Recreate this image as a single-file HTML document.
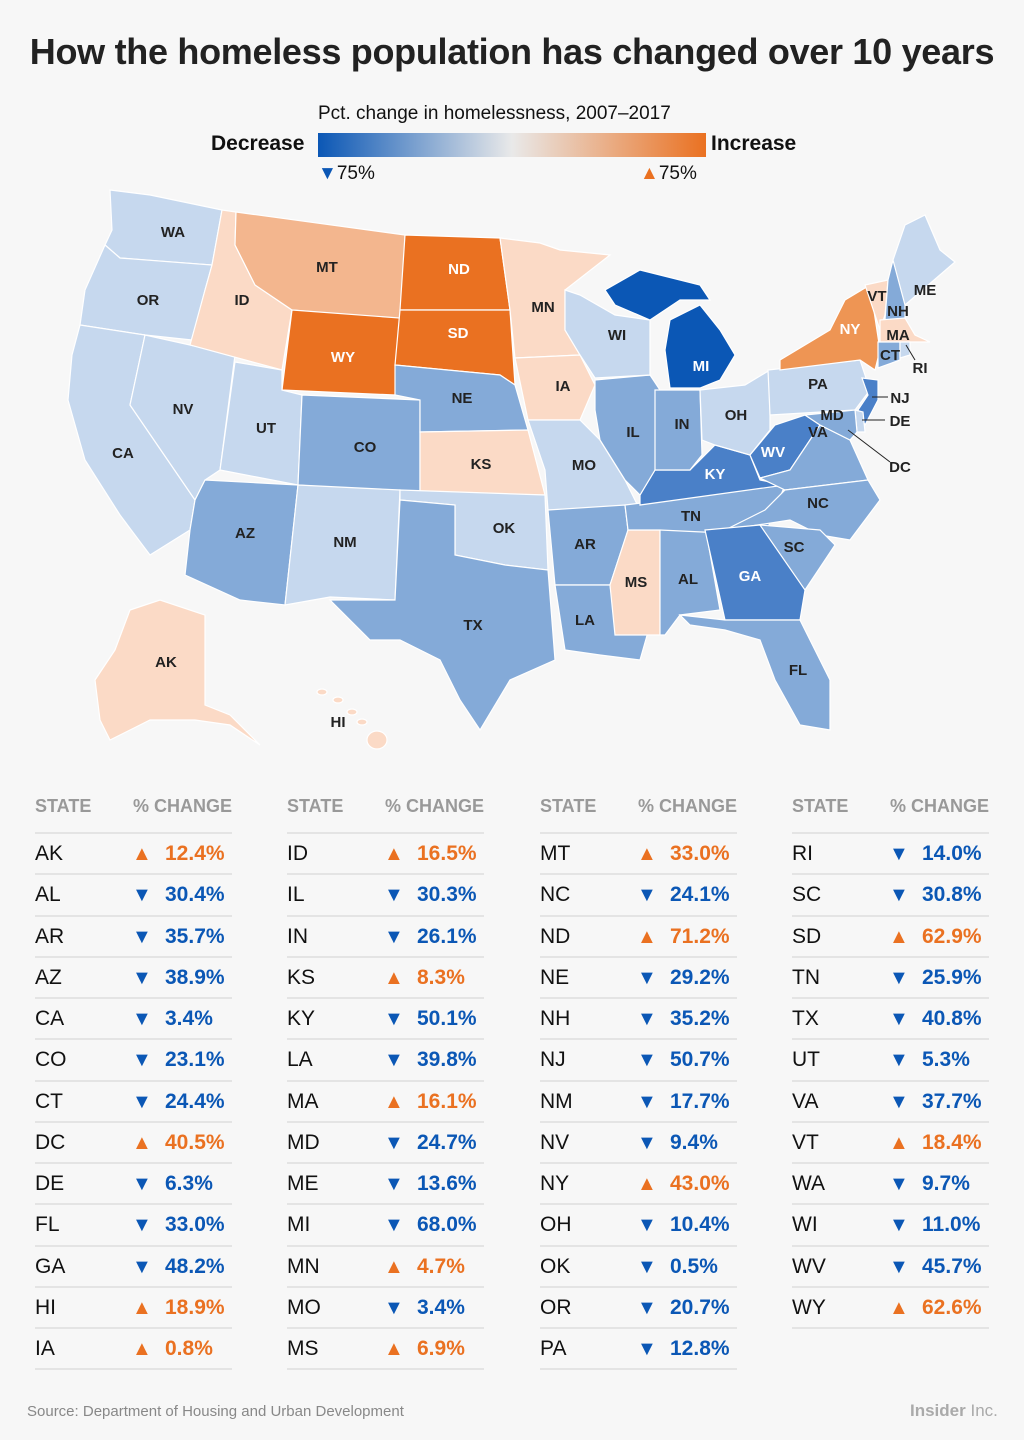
<!DOCTYPE html>
<html><head><meta charset="utf-8"><style>
body{margin:0;background:#f7f7f7;font-family:"Liberation Sans",sans-serif;}
.w{position:relative;width:1024px;height:1440px;overflow:hidden;}
h1{position:absolute;top:31px;left:0;width:1024px;text-align:center;margin:0;font-size:36px;font-weight:bold;color:#222;letter-spacing:-0.3px}
.t{position:absolute;font-size:20px;color:#111}
.hd{position:absolute;top:796px;font-size:18px;font-weight:bold;color:#999}
.col{position:absolute;top:832px;width:197px}
.r{height:39.25px;border-top:2px solid #e4e4e4;position:relative}
.r span{position:absolute;top:8px;font-size:21px}
.s{left:0;color:#111}
.a{left:97px;font-size:20px!important;top:9px!important}
.v{left:130px;font-weight:bold}
.u{color:#0b57b5}.o{color:#ea7121}
</style></head><body><div class="w">
<h1>How the homeless population has changed over 10 years</h1>
<div class="t" style="top:103px;left:318px;font-size:19px">Pct. change in homelessness, 2007–2017</div>
<div style="position:absolute;top:133px;left:318px;width:388px;height:24px;background:linear-gradient(90deg,#0b57b5,#e9e9e9 50%,#ea7121)"></div>
<div class="t" style="top:132px;left:211px;font-weight:bold;font-size:21px">Decrease</div>
<div class="t" style="top:132px;left:711px;font-weight:bold;font-size:21px">Increase</div>
<div class="t" style="top:163px;left:318px;font-size:19px"><span style="color:#0b57b5">▼</span>75%</div>
<div class="t" style="top:163px;left:640px;font-size:19px"><span style="color:#ea7121">▲</span>75%</div>
<svg style="position:absolute;left:0;top:0" width="1024" height="780" stroke="#fff" stroke-width="1.2">
<g>
<polygon fill="#c6d8ee" points="110,190 150,195 222,210 212,265 170,262 120,258 105,245 112,230"/>
<polygon fill="#c6d8ee" points="105,245 120,258 212,265 205,290 192,340 145,335 80,325 85,290"/>
<polygon fill="#c6d8ee" points="80,325 145,335 130,405 195,500 190,530 150,555 120,515 85,460 68,400 72,355"/>
<polygon fill="#c6d8ee" points="145,335 235,355 220,470 205,480 195,500 130,405"/>
<polygon fill="#fbdac6" points="222,210 236,212 235,245 255,285 292,310 282,370 190,345 205,290 212,265"/>
<polygon fill="#f3b68e" points="236,212 405,235 405,320 292,310 255,285 235,245"/>
<polygon fill="#ea7121" points="292,310 400,318 395,395 282,390"/>
<polygon fill="#c6d8ee" points="235,362 282,370 282,390 302,395 298,485 220,470"/>
<polygon fill="#84aad8" points="302,395 420,400 420,495 298,485"/>
<polygon fill="#84aad8" points="205,480 298,485 285,605 240,600 185,575 190,530 195,500"/>
<polygon fill="#c6d8ee" points="298,485 400,490 395,600 330,597 285,605"/>
<polygon fill="#ea7121" points="405,235 500,238 510,310 400,310"/>
<polygon fill="#ea7121" points="400,310 510,310 515,385 500,375 395,365"/>
<polygon fill="#84aad8" points="395,365 500,375 515,385 528,430 420,432 420,400 395,395"/>
<polygon fill="#fbdac6" points="420,432 528,430 545,495 420,495"/>
<polygon fill="#c6d8ee" points="400,490 545,495 548,570 505,565 455,555 455,505 400,500"/>
<polygon fill="#84aad8" points="400,500 455,505 455,555 505,565 548,570 555,660 510,680 480,730 460,700 440,660 400,640 370,640 330,600 395,600"/>
<polygon fill="#fbdac6" points="500,238 540,243 560,250 610,255 565,290 565,330 580,355 515,358 510,310"/>
<polygon fill="#fbdac6" points="515,358 580,355 595,385 580,420 528,420"/>
<polygon fill="#c6d8ee" points="528,420 580,420 600,440 625,480 640,510 625,510 548,510 545,470"/>
<polygon fill="#84aad8" points="548,510 625,505 628,530 610,585 555,585"/>
<polygon fill="#84aad8" points="555,585 610,585 615,620 650,625 640,660 600,655 565,650"/>
<polygon fill="#fbdac6" points="628,530 660,530 660,635 615,635 610,585"/>
<polygon fill="#84aad8" points="660,525 705,525 720,610 680,615 665,635 660,635"/>
<polygon fill="#84aad8" points="625,505 785,485 765,535 660,530 628,530"/>
<polygon fill="#4a80c8" points="640,495 655,470 690,470 715,445 750,455 760,480 785,485 640,505"/>
<polygon fill="#84aad8" points="595,380 650,375 660,390 655,470 640,495 625,480 600,440 595,410"/>
<polygon fill="#84aad8" points="655,390 700,390 702,455 690,470 655,470"/>
<polygon fill="#c6d8ee" points="700,390 745,385 770,370 770,430 750,455 715,445 702,440"/>
<polygon fill="#c6d8ee" points="565,290 580,295 615,315 650,320 650,375 595,378 580,355 565,330"/>
<polygon fill="#0b57b5" points="605,290 640,270 700,285 710,300 680,300 650,320 615,305"/>
<polygon fill="#0b57b5" points="670,320 700,305 720,330 735,355 720,380 700,388 670,388 665,350"/>
<polygon fill="#4a80c8" points="750,455 775,425 805,415 820,425 790,470 760,478"/>
<polygon fill="#84aad8" points="760,478 790,470 820,425 850,440 868,480 785,490"/>
<polygon fill="#84aad8" points="785,490 868,480 880,500 850,540 820,535 790,520 725,530 765,510"/>
<polygon fill="#84aad8" points="760,525 820,530 835,545 805,590 775,560"/>
<polygon fill="#4a80c8" points="705,530 760,525 805,590 800,620 725,620"/>
<polygon fill="#84aad8" points="680,615 725,620 800,620 830,680 830,730 800,725 775,680 760,640 725,630 690,625"/>
<polygon fill="#c6d8ee" points="768,370 860,360 870,390 855,410 770,415"/>
<polygon fill="#ee9554" points="780,360 830,330 845,300 870,285 880,350 875,370 860,360 780,370"/>
<polygon fill="#fbdac6" points="865,285 888,280 885,315 880,330"/>
<polygon fill="#84aad8" points="888,280 893,260 905,300 905,320 885,320"/>
<polygon fill="#c6d8ee" points="893,260 905,225 925,215 940,250 955,262 905,305"/>
<polygon fill="#fbdac6" points="880,320 905,318 915,335 930,342 880,342"/>
<polygon fill="#84aad8" points="878,342 900,342 900,360 878,368"/>
<polygon fill="#c6d8ee" points="900,342 910,342 910,355 900,358"/>
<polygon fill="#4a80c8" points="862,378 878,380 878,400 865,425 858,410 868,395"/>
<polygon fill="#c6d8ee" points="855,410 863,412 865,432 857,432"/>
<polygon fill="#84aad8" points="805,415 855,410 857,432 850,440 820,425"/>
<polygon fill="#fbdac6" points="130,610 160,600 205,615 205,705 230,715 260,745 230,725 195,720 150,720 110,740 100,720 95,680 115,650"/>
<g fill="#fbdac6"><ellipse cx="322" cy="692" rx="5" ry="3"/><ellipse cx="338" cy="700" rx="5" ry="3"/><ellipse cx="352" cy="712" rx="5" ry="3"/><ellipse cx="362" cy="722" rx="5" ry="3"/><ellipse cx="377" cy="740" rx="10" ry="9"/></g>
</g>
<g stroke="none" font-family="Liberation Sans" font-weight="bold" font-size="15" fill="#222" text-anchor="middle">
<text x="173" y="237">WA</text><text x="148" y="305">OR</text><text x="123" y="458">CA</text><text x="183" y="414">NV</text><text x="242" y="305">ID</text><text x="327" y="272">MT</text><text fill="#fff" x="343" y="362">WY</text><text x="266" y="433">UT</text><text x="365" y="452">CO</text><text x="245" y="538">AZ</text><text x="345" y="547">NM</text><text fill="#fff" x="459" y="274">ND</text><text fill="#fff" x="458" y="338">SD</text><text x="462" y="403">NE</text><text x="481" y="469">KS</text><text x="504" y="533">OK</text><text x="473" y="630">TX</text><text x="543" y="312">MN</text><text x="563" y="391">IA</text><text x="584" y="470">MO</text><text x="585" y="549">AR</text><text x="585" y="625">LA</text><text x="636" y="587">MS</text><text x="688" y="584">AL</text><text x="691" y="521">TN</text><text fill="#fff" x="715" y="479">KY</text><text x="633" y="437">IL</text><text x="682" y="429">IN</text><text x="736" y="420">OH</text><text x="617" y="340">WI</text><text fill="#fff" x="701" y="371">MI</text><text fill="#fff" x="773" y="457">WV</text><text x="818" y="437">VA</text><text x="818" y="508">NC</text><text x="794" y="552">SC</text><text fill="#fff" x="750" y="581">GA</text><text x="798" y="675">FL</text><text x="818" y="389">PA</text><text fill="#fff" x="850" y="334">NY</text><text x="877" y="301">VT</text><text x="898" y="316">NH</text><text x="925" y="295">ME</text><text x="898" y="340">MA</text><text x="890" y="360">CT</text><text x="920" y="373">RI</text><text x="900" y="403">NJ</text><text x="832" y="420">MD</text><text x="900" y="426">DE</text><text x="900" y="472">DC</text><text x="166" y="667">AK</text><text x="338" y="727">HI</text>
</g>
<g stroke="#222" stroke-width="1"><line x1="906" y1="345" x2="915" y2="360"/><line x1="872" y1="397" x2="888" y2="397"/><line x1="862" y1="420" x2="885" y2="420"/><line x1="848" y1="430" x2="890" y2="462"/></g>
</svg>
<div class="hd" style="left:35px">STATE</div><div class="hd" style="left:133px">% CHANGE</div>
<div class="hd" style="left:287px">STATE</div><div class="hd" style="left:385px">% CHANGE</div>
<div class="hd" style="left:540px">STATE</div><div class="hd" style="left:638px">% CHANGE</div>
<div class="hd" style="left:792px">STATE</div><div class="hd" style="left:890px">% CHANGE</div>
<div class="col" style="left:35px">
<div class="r"><span class="s">AK</span><span class="a o">▲</span><span class="v o">12.4%</span></div>
<div class="r"><span class="s">AL</span><span class="a u">▼</span><span class="v u">30.4%</span></div>
<div class="r"><span class="s">AR</span><span class="a u">▼</span><span class="v u">35.7%</span></div>
<div class="r"><span class="s">AZ</span><span class="a u">▼</span><span class="v u">38.9%</span></div>
<div class="r"><span class="s">CA</span><span class="a u">▼</span><span class="v u">3.4%</span></div>
<div class="r"><span class="s">CO</span><span class="a u">▼</span><span class="v u">23.1%</span></div>
<div class="r"><span class="s">CT</span><span class="a u">▼</span><span class="v u">24.4%</span></div>
<div class="r"><span class="s">DC</span><span class="a o">▲</span><span class="v o">40.5%</span></div>
<div class="r"><span class="s">DE</span><span class="a u">▼</span><span class="v u">6.3%</span></div>
<div class="r"><span class="s">FL</span><span class="a u">▼</span><span class="v u">33.0%</span></div>
<div class="r"><span class="s">GA</span><span class="a u">▼</span><span class="v u">48.2%</span></div>
<div class="r"><span class="s">HI</span><span class="a o">▲</span><span class="v o">18.9%</span></div>
<div class="r" style="border-bottom:2px solid #e4e4e4"><span class="s">IA</span><span class="a o">▲</span><span class="v o">0.8%</span></div>
</div>
<div class="col" style="left:287px">
<div class="r"><span class="s">ID</span><span class="a o">▲</span><span class="v o">16.5%</span></div>
<div class="r"><span class="s">IL</span><span class="a u">▼</span><span class="v u">30.3%</span></div>
<div class="r"><span class="s">IN</span><span class="a u">▼</span><span class="v u">26.1%</span></div>
<div class="r"><span class="s">KS</span><span class="a o">▲</span><span class="v o">8.3%</span></div>
<div class="r"><span class="s">KY</span><span class="a u">▼</span><span class="v u">50.1%</span></div>
<div class="r"><span class="s">LA</span><span class="a u">▼</span><span class="v u">39.8%</span></div>
<div class="r"><span class="s">MA</span><span class="a o">▲</span><span class="v o">16.1%</span></div>
<div class="r"><span class="s">MD</span><span class="a u">▼</span><span class="v u">24.7%</span></div>
<div class="r"><span class="s">ME</span><span class="a u">▼</span><span class="v u">13.6%</span></div>
<div class="r"><span class="s">MI</span><span class="a u">▼</span><span class="v u">68.0%</span></div>
<div class="r"><span class="s">MN</span><span class="a o">▲</span><span class="v o">4.7%</span></div>
<div class="r"><span class="s">MO</span><span class="a u">▼</span><span class="v u">3.4%</span></div>
<div class="r" style="border-bottom:2px solid #e4e4e4"><span class="s">MS</span><span class="a o">▲</span><span class="v o">6.9%</span></div>
</div>
<div class="col" style="left:540px">
<div class="r"><span class="s">MT</span><span class="a o">▲</span><span class="v o">33.0%</span></div>
<div class="r"><span class="s">NC</span><span class="a u">▼</span><span class="v u">24.1%</span></div>
<div class="r"><span class="s">ND</span><span class="a o">▲</span><span class="v o">71.2%</span></div>
<div class="r"><span class="s">NE</span><span class="a u">▼</span><span class="v u">29.2%</span></div>
<div class="r"><span class="s">NH</span><span class="a u">▼</span><span class="v u">35.2%</span></div>
<div class="r"><span class="s">NJ</span><span class="a u">▼</span><span class="v u">50.7%</span></div>
<div class="r"><span class="s">NM</span><span class="a u">▼</span><span class="v u">17.7%</span></div>
<div class="r"><span class="s">NV</span><span class="a u">▼</span><span class="v u">9.4%</span></div>
<div class="r"><span class="s">NY</span><span class="a o">▲</span><span class="v o">43.0%</span></div>
<div class="r"><span class="s">OH</span><span class="a u">▼</span><span class="v u">10.4%</span></div>
<div class="r"><span class="s">OK</span><span class="a u">▼</span><span class="v u">0.5%</span></div>
<div class="r"><span class="s">OR</span><span class="a u">▼</span><span class="v u">20.7%</span></div>
<div class="r" style="border-bottom:2px solid #e4e4e4"><span class="s">PA</span><span class="a u">▼</span><span class="v u">12.8%</span></div>
</div>
<div class="col" style="left:792px">
<div class="r"><span class="s">RI</span><span class="a u">▼</span><span class="v u">14.0%</span></div>
<div class="r"><span class="s">SC</span><span class="a u">▼</span><span class="v u">30.8%</span></div>
<div class="r"><span class="s">SD</span><span class="a o">▲</span><span class="v o">62.9%</span></div>
<div class="r"><span class="s">TN</span><span class="a u">▼</span><span class="v u">25.9%</span></div>
<div class="r"><span class="s">TX</span><span class="a u">▼</span><span class="v u">40.8%</span></div>
<div class="r"><span class="s">UT</span><span class="a u">▼</span><span class="v u">5.3%</span></div>
<div class="r"><span class="s">VA</span><span class="a u">▼</span><span class="v u">37.7%</span></div>
<div class="r"><span class="s">VT</span><span class="a o">▲</span><span class="v o">18.4%</span></div>
<div class="r"><span class="s">WA</span><span class="a u">▼</span><span class="v u">9.7%</span></div>
<div class="r"><span class="s">WI</span><span class="a u">▼</span><span class="v u">11.0%</span></div>
<div class="r"><span class="s">WV</span><span class="a u">▼</span><span class="v u">45.7%</span></div>
<div class="r" style="border-bottom:2px solid #e4e4e4"><span class="s">WY</span><span class="a o">▲</span><span class="v o">62.6%</span></div>
</div>
<div style="position:absolute;top:1403px;left:27px;font-size:15px;color:#888">Source: Department of Housing and Urban Development</div>
<div style="position:absolute;top:1401px;left:910px;font-size:17px;color:#aaa;font-weight:bold">Insider <span style="font-weight:normal">Inc.</span></div>
</div></body></html>
